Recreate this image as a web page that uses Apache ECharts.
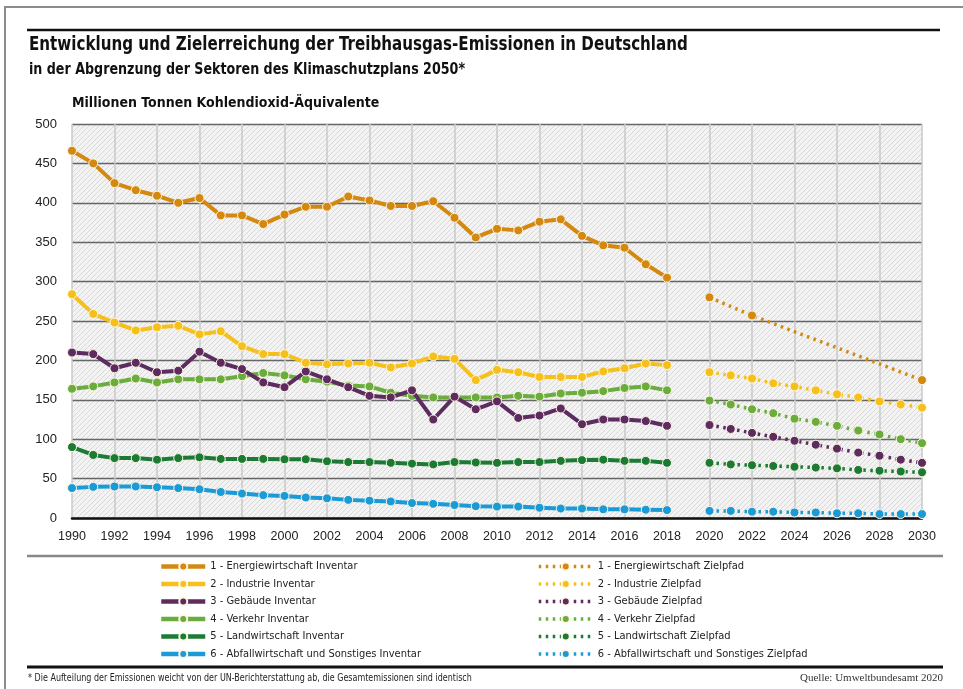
<!DOCTYPE html>
<html>
<head>
<meta charset="utf-8">
<title>Treibhausgas-Emissionen Deutschland</title>
<script src="https://cdn.jsdelivr.net/npm/echarts@6/dist/echarts.min.js"></script>
<style>
html, body { margin: 0; padding: 0; background: #fff; }
#chart { width: 963px; height: 689px; }
</style>
</head>
<body>
<div id="chart"></div>
<script>
// Jahre
var jahreInventar = [1990, 1991, 1992, 1993, 1994, 1995, 1996, 1997, 1998, 1999, 2000,
	2001, 2002, 2003, 2004, 2005, 2006, 2007, 2008, 2009, 2010,
	2011, 2012, 2013, 2014, 2015, 2016, 2017, 2018];
var jahreZiel = [2020, 2021, 2022, 2023, 2024, 2025, 2026, 2027, 2028, 2029, 2030];
var jahreEnergieZiel = [2020, 2022, 2030];

// Inventar (Mio. t CO2-Aeq.)
var energieInventar = [466, 450, 425, 416, 409, 400, 406, 384, 384, 373, 385,
	395, 395, 408, 403, 396, 396, 402, 381, 356, 367,
	365, 376, 379, 358, 346, 343, 322, 305];
var industrieInventar = [284, 259, 248, 238, 242, 244, 233, 237, 218, 208, 208,
	197, 195, 196, 197, 191, 196, 205, 202, 175, 188,
	185, 179, 179, 179, 186, 190, 196, 194];
var gebaeudeInventar = [210, 208, 190, 197, 185, 187, 211, 197, 189, 172, 166,
	186, 176, 166, 155, 153, 162, 125, 154, 138, 148,
	127, 130, 139, 119, 125, 125, 123, 117];
var verkehrInventar = [164, 167, 172, 177, 172, 176, 176, 176, 180, 184, 181,
	176, 173, 168, 167, 159, 155, 153, 153, 153, 153,
	155, 154, 158, 159, 161, 165, 167, 162];
var landwirtschaftInventar = [90, 80, 76, 76, 74, 76, 77, 75, 75, 75, 74.5,
	74.5, 72, 71, 71, 70, 69, 68, 71, 70.5, 70,
	71, 71, 72.5, 73.5, 74, 72.5, 72.5, 70];
var abfallInventar = [38, 39.5, 40, 40, 39, 38, 36.5, 33, 31, 29, 28,
	26, 25, 23, 22, 21, 19, 18, 16.5, 15, 14.5,
	14.5, 13, 12, 12, 11, 11, 10.5, 10];

// Zielpfad
var energieZiel = [280, 257, 175];
var industrieZiel = [185, 181, 177, 171, 167, 162, 157, 153, 148, 144, 140];
var gebaeudeZiel = [118, 113, 108, 103, 98, 93, 88, 83, 79, 74, 70];
var verkehrZiel = [149, 144, 138, 133, 126, 122, 117, 111, 106, 100, 95];
var landwirtschaftZiel = [70, 68, 67, 66, 65, 64, 63, 61, 60, 59, 58];
var abfallZiel = [9, 9, 8, 8, 7, 7, 6, 6, 5, 5, 5];

var namenInventar = ['1 - Energiewirtschaft Inventar', '2 - Industrie Inventar', '3 - Gebäude Inventar',
	'4 - Verkehr Inventar', '5 - Landwirtschaft Inventar', '6 - Abfallwirtschaft und Sonstiges Inventar'];
var namenZiel = ['1 - Energiewirtschaft Zielpfad', '2 - Industrie Zielpfad', '3 - Gebäude Zielpfad',
	'4 - Verkehr Zielpfad', '5 - Landwirtschaft Zielpfad', '6 - Abfallwirtschaft und Sonstiges Zielpfad'];
var farben = ['#d4880f', '#f6c01c', '#5d2b5f', '#6aad3d', '#1b7a33', '#1a9bd7'];

var NARROW = "'Liberation Sans Narrow', 'DejaVu Sans Condensed', 'Roboto Condensed', 'Liberation Sans', sans-serif";

function paare(jahre, werte) {
	var out = [];
	for (var i = 0; i < jahre.length; i++) {
		out.push([jahre[i], werte[i]]);
	}
	return out;
}

// schraffierter Hintergrund
function schraffur() {
	var c = document.createElement('canvas');
	c.width = 5;
	c.height = 5;
	var ctx = c.getContext('2d');
	ctx.fillStyle = '#f3f3f3';
	ctx.fillRect(0, 0, 5, 5);
	ctx.strokeStyle = '#d2d2d2';
	ctx.lineWidth = 0.8;
	ctx.beginPath();
	ctx.moveTo(-1, 6); ctx.lineTo(6, -1);
	ctx.moveTo(-1, 1); ctx.lineTo(1, -1);
	ctx.moveTo(4, 6); ctx.lineTo(6, 4);
	ctx.stroke();
	return c;
}

var inventarDaten = [energieInventar, industrieInventar, gebaeudeInventar,
	verkehrInventar, landwirtschaftInventar, abfallInventar];
var zielDaten = [energieZiel, industrieZiel, gebaeudeZiel,
	verkehrZiel, landwirtschaftZiel, abfallZiel];

var series = [];
for (var i = 0; i < 6; i++) {
	series.push({
		name : namenInventar[i],
		type : 'line',
		data : paare(jahreInventar, inventarDaten[i]),
		symbol : 'circle',
		symbolSize : 9,
		z : 10 - i,
		lineStyle : { color : farben[i], width : 4 },
		itemStyle : { color : farben[i], borderColor : '#fff7e2', borderWidth : 1 }
	});
}
for (var i = 0; i < 6; i++) {
	series.push({
		name : namenZiel[i],
		type : 'line',
		data : paare(i == 0 ? jahreEnergieZiel : jahreZiel, zielDaten[i]),
		symbol : 'circle',
		symbolSize : 9,
		z : 10 - i,
		lineStyle : { color : farben[i], width : 3.5, type : [2.5, 4.5] },
		itemStyle : { color : farben[i], borderColor : '#fff7e2', borderWidth : 1 }
	});
}

var option = {
	animation : false,
	backgroundColor : '#ffffff',
	grid : {
		left : 72,
		right : 41,
		top : 124,
		bottom : 171,
		show : true,
		borderWidth : 0,
		backgroundColor : { image : schraffur(), repeat : 'repeat' }
	},
	xAxis : {
		type : 'value',
		min : 1990,
		max : 2030,
		interval : 2,
		axisLine : { show : true, onZero : false, lineStyle : { color : '#111', width : 2.5 } },
		axisTick : { show : false },
		axisLabel : {
			margin : 12,
			fontSize : 12.5,
			fontFamily : "'Liberation Sans', sans-serif",
			color : '#222',
			formatter : function(v) { return String(v); }
		},
		splitLine : { show : true, lineStyle : { color : '#c8c8c8', width : 1.5 } }
	},
	yAxis : {
		type : 'value',
		min : 0,
		max : 500,
		interval : 50,
		name : 'Millionen Tonnen Kohlendioxid-Äquivalente',
		nameLocation : 'end',
		nameGap : 14,
		nameTextStyle : { align : 'left', fontFamily : NARROW, fontWeight : 'bold', fontSize : 14, color : '#111' },
		axisLine : { show : false },
		axisTick : { show : false },
		axisLabel : { margin : 15, fontSize : 13, fontFamily : "'Liberation Sans', sans-serif", color : '#222' },
		splitLine : { show : true, lineStyle : { color : '#666', width : 1.4 } }
	},
	legend : [ {
		data : namenInventar,
		orient : 'vertical',
		left : 154,
		top : 556,
		itemWidth : 44,
		itemHeight : 10,
		itemGap : 6.5,
		selectedMode : false,
		lineStyle : { width : 4.5 },
		textStyle : { fontFamily : NARROW, fontSize : 11, color : '#222' }
	}, {
		data : namenZiel,
		orient : 'vertical',
		left : 532,
		top : 556,
		itemWidth : 54,
		itemHeight : 10,
		itemGap : 6.5,
		selectedMode : false,
		lineStyle : { width : 3.5 },
		textStyle : { fontFamily : NARROW, fontSize : 11, color : '#222' }
	} ],
	graphic : [ {
		type : 'polyline',
		shape : { points : [ [ 5, 689 ], [ 5, 7 ], [ 963, 7 ] ] },
		style : { stroke : '#8c8c8c', lineWidth : 2, fill : null }
	}, {
		type : 'line',
		shape : { x1 : 27, y1 : 30, x2 : 940, y2 : 30 },
		style : { stroke : '#111', lineWidth : 2.5 }
	}, {
		type : 'text',
		x : 29,
		y : 45,
		scaleX : 0.84,
		style : {
			text : 'Entwicklung und Zielerreichung der Treibhausgas-Emissionen in Deutschland',
			font : "bold 20px " + NARROW,
			fill : '#111',
			verticalAlign : 'middle'
		}
	}, {
		type : 'text',
		x : 29,
		y : 70,
		scaleX : 0.94,
		style : {
			text : 'in der Abgrenzung der Sektoren des Klimaschutzplans 2050*',
			font : "bold 15px " + NARROW,
			fill : '#111',
			verticalAlign : 'middle'
		}
	}, {
		type : 'line',
		shape : { x1 : 27, y1 : 556, x2 : 943, y2 : 556 },
		style : { stroke : '#888', lineWidth : 2.5 }
	}, {
		type : 'line',
		shape : { x1 : 27, y1 : 667, x2 : 943, y2 : 667 },
		style : { stroke : '#111', lineWidth : 3 }
	}, {
		type : 'text',
		x : 28,
		y : 678,
		scaleX : 0.89,
		style : {
			text : '* Die Aufteilung der Emissionen weicht von der UN-Berichterstattung ab, die Gesamtemissionen sind identisch',
			font : "10px " + NARROW,
			fill : '#222',
			verticalAlign : 'middle'
		}
	}, {
		type : 'text',
		x : 943,
		y : 678,
		style : {
			text : 'Quelle: Umweltbundesamt 2020',
			font : "11px 'Liberation Serif', serif",
			fill : '#333',
			align : 'right',
			verticalAlign : 'middle'
		}
	} ],
	series : series
};

var myChart = echarts.init(document.getElementById('chart'));
myChart.setOption(option);
window.onresize = myChart.resize;
</script>
</body>
</html>
